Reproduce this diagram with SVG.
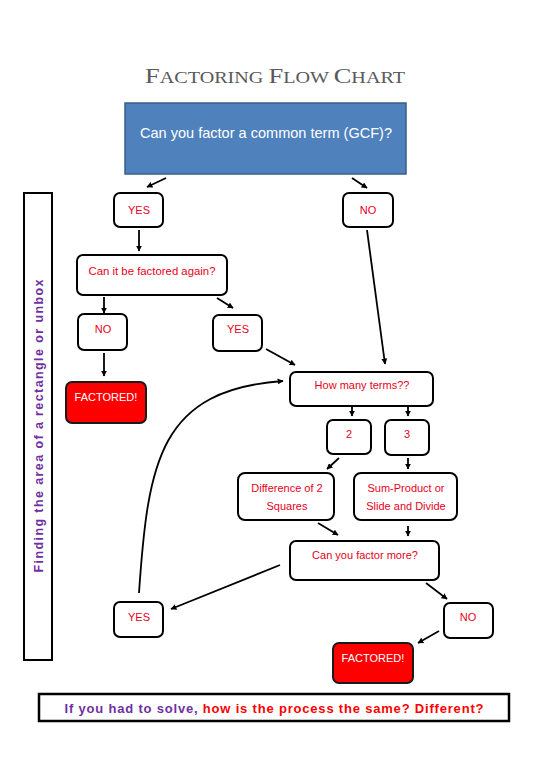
<svg xmlns="http://www.w3.org/2000/svg" width="550" height="777" viewBox="0 0 550 777">
<defs>
<marker id="ah" viewBox="0 0 10 10" refX="9" refY="5" markerWidth="6" markerHeight="6" orient="auto" markerUnits="userSpaceOnUse">
<path d="M0,0 L10,5 L0,10 z" fill="#000"/>
</marker>
<style>
.box{fill:#fff;stroke:#000;stroke-width:2}
.red{fill:#ff0000;stroke:#1a1a1a;stroke-width:2}
.lbl{font-family:"Liberation Sans",Arial,sans-serif;font-size:11px;fill:#e8001c;text-anchor:middle}
.wl{font-family:"Liberation Sans",Arial,sans-serif;font-size:11px;fill:#fff;text-anchor:middle}
.c{fill:none;stroke:#000;stroke-width:1.8;marker-end:url(#ah)}
</style>
</defs>
<rect width="550" height="777" fill="#fff"/>
<g id="title">
<text x="275" y="83" text-anchor="middle" font-family="'Liberation Serif',serif" fill="#595959" font-size="16" textLength="260" lengthAdjust="spacingAndGlyphs"><tspan font-size="21">F</tspan>ACTORING <tspan font-size="21">F</tspan>LOW <tspan font-size="21">C</tspan>HART</text>
</g>
<g id="gcf">
<rect x="125" y="103" width="281" height="71" fill="#4f81bd" stroke="#385d8a" stroke-width="1.5"/>
<text x="266" y="138" text-anchor="middle" font-family="'Liberation Sans',Arial,sans-serif" font-size="14.5" fill="#fff" textLength="252" lengthAdjust="spacingAndGlyphs">Can you factor a common term (GCF)?</text>
</g>
<g id="yes1"><rect class="box" x="114" y="193" width="49" height="34" rx="6"/><text class="lbl" x="139" y="214">YES</text></g>
<g id="no1"><rect class="box" x="343" y="193" width="50" height="34" rx="6"/><text class="lbl" x="368" y="214">NO</text></g>
<g id="again"><rect class="box" x="77" y="255" width="150" height="40" rx="6"/><text class="lbl" x="152" y="275" textLength="127" lengthAdjust="spacingAndGlyphs">Can it be factored again?</text></g>
<g id="no2"><rect class="box" x="78" y="314" width="49" height="36" rx="6"/><text class="lbl" x="103" y="333">NO</text></g>
<g id="yes2"><rect class="box" x="213" y="315" width="49" height="36" rx="6"/><text class="lbl" x="238" y="333">YES</text></g>
<g id="factored1"><rect class="red" x="66" y="382" width="80" height="41" rx="6"/><text class="wl" x="106" y="401">FACTORED!</text></g>
<g id="terms"><rect class="box" x="290" y="372" width="143" height="34" rx="6"/><text class="lbl" x="362" y="389">How many terms??</text></g>
<g id="two"><rect class="box" x="327" y="420" width="44" height="34" rx="6"/><text class="lbl" x="349" y="438">2</text></g>
<g id="three"><rect class="box" x="385" y="420" width="44" height="35" rx="6"/><text class="lbl" x="407" y="438">3</text></g>
<g id="diff"><rect class="box" x="238" y="473" width="96" height="47" rx="7"/><text class="lbl" x="287" y="492">Difference of 2</text><text class="lbl" x="287" y="510">Squares</text></g>
<g id="sum"><rect class="box" x="354" y="473" width="103" height="47" rx="7"/><text class="lbl" x="406" y="492">Sum-Product or</text><text class="lbl" x="406" y="510">Slide and Divide</text></g>
<g id="more"><rect class="box" x="290" y="541" width="149" height="39" rx="6"/><text class="lbl" x="365" y="559">Can you factor more?</text></g>
<g id="yes3"><rect class="box" x="114" y="602" width="49" height="35" rx="6"/><text class="lbl" x="139" y="621">YES</text></g>
<g id="no3"><rect class="box" x="444" y="603" width="49" height="35" rx="6"/><text class="lbl" x="468" y="621">NO</text></g>
<g id="factored2"><rect class="red" x="333" y="643" width="80" height="40" rx="6"/><text class="wl" x="373" y="662">FACTORED!</text></g>
<g id="side">
<rect x="24" y="193" width="28" height="467" fill="#fff" stroke="#000" stroke-width="2"/>
<text transform="translate(42.5,426) rotate(-90)" text-anchor="middle" font-family="'Liberation Sans',Arial,sans-serif" font-size="12.5" font-weight="bold" fill="#7030a0" textLength="293" lengthAdjust="spacing">Finding the area of a rectangle or unbox</text>
</g>
<g id="question">
<rect x="39" y="694" width="470" height="27" fill="#fff" stroke="#000" stroke-width="2.5"/>
<text x="274" y="712.5" text-anchor="middle" font-family="'Liberation Sans',Arial,sans-serif" font-size="13" font-weight="bold" textLength="419" lengthAdjust="spacing"><tspan fill="#7030a0">If you had to solve, </tspan><tspan fill="#ff0000">how is the process the same? Different?</tspan></text>
</g>
<g id="connectors">
<line class="c" x1="166" y1="178" x2="147" y2="187"/>
<line class="c" x1="352" y1="178" x2="367" y2="188"/>
<line class="c" x1="139" y1="230" x2="139" y2="251"/>
<line class="c" x1="367" y1="230" x2="385" y2="364"/>
<line class="c" x1="104" y1="297" x2="104" y2="313"/>
<line class="c" x1="217" y1="298" x2="233" y2="308"/>
<line class="c" x1="104" y1="353" x2="104" y2="376"/>
<line class="c" x1="266" y1="349" x2="295" y2="365"/>
<path class="c" d="M139,593 C148,460 160,390 283,381"/>
<line class="c" x1="352" y1="407" x2="352" y2="416"/>
<line class="c" x1="408" y1="407" x2="408" y2="416"/>
<line class="c" x1="339" y1="458" x2="327" y2="469"/>
<line class="c" x1="408" y1="458" x2="408" y2="469"/>
<line class="c" x1="318" y1="523" x2="338" y2="535"/>
<line class="c" x1="408" y1="526" x2="408" y2="536"/>
<line class="c" x1="280" y1="565" x2="171" y2="609"/>
<line class="c" x1="426" y1="583" x2="447" y2="599"/>
<line class="c" x1="439" y1="631" x2="418" y2="643"/>
</g>
</svg>
